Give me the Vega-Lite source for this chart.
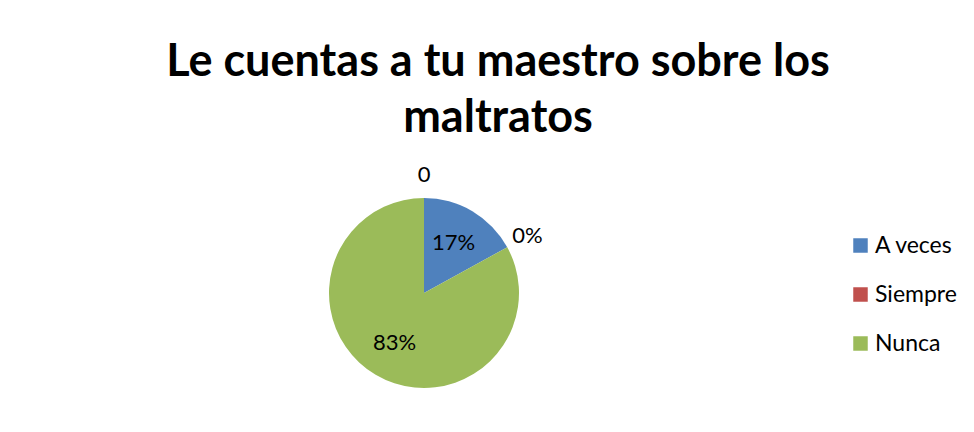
{
  "$schema": "https://vega.github.io/schema/vega-lite/v6.json",
  "width": 190,
  "height": 190,
  "autosize": "none",
  "padding": {"left": 329, "top": 198, "right": 455, "bottom": 44},
  "background": "white",
  "config": {"view": {"stroke": null}, "font": "Lato"},
  "title": {
    "text": ["Le cuentas a tu maestro sobre los", "maltratos"],
    "font": "Lato",
    "fontSize": 45,
    "fontWeight": "bold",
    "color": "#000000",
    "anchor": "middle",
    "frame": "group",
    "dx": 74,
    "lineHeight": 56,
    "offset": 23
  },
  "data": {
    "values": [
      {"category": "Etiqueta", "value": 0, "label": "0", "ord": 0},
      {"category": "A veces", "value": 17, "label": "17%", "ord": 1},
      {"category": "Siempre", "value": 0, "label": "0%", "ord": 2},
      {"category": "Nunca", "value": 83, "label": "83%", "ord": 3}
    ]
  },
  "layer": [
    {
      "transform": [{"filter": "datum.category !== 'Etiqueta'"}],
      "mark": {"type": "arc"},
      "encoding": {
        "theta": {"field": "value", "type": "quantitative", "stack": true},
        "order": {"field": "ord", "type": "quantitative"},
        "color": {
          "field": "category",
          "type": "nominal",
          "scale": {"domain": ["A veces", "Siempre", "Nunca"], "range": ["#4F81BD", "#C0504D", "#9BBB59"]},
          "legend": {
            "title": null,
            "orient": "none",
            "legendX": 520,
            "legendY": 36,
            "symbolType": "square",
            "symbolSize": 210,
            "symbolStrokeWidth": 0,
            "labelFont": "Lato",
            "labelFontSize": 23,
            "labelColor": "#000000",
            "labelOffset": 3,
            "rowPadding": 25,
            "padding": 0
          }
        }
      }
    },
    {
      "mark": {"type": "text", "radius": 58, "fontSize": 22, "font": "Lato", "color": "#000000"},
      "encoding": {
        "theta": {"field": "value", "type": "quantitative", "stack": true},
        "order": {"field": "ord", "type": "quantitative"},
        "detail": {"field": "category", "type": "nominal"},
        "text": {"condition": {"test": "datum.value > 0", "field": "label"}, "value": ""}
      }
    },
    {
      "mark": {"type": "text", "radius": 118, "fontSize": 22, "font": "Lato", "color": "#000000"},
      "encoding": {
        "theta": {"field": "value", "type": "quantitative", "stack": true},
        "order": {"field": "ord", "type": "quantitative"},
        "detail": {"field": "category", "type": "nominal"},
        "text": {"condition": {"test": "datum.value == 0", "field": "label"}, "value": ""}
      }
    }
  ]
}
